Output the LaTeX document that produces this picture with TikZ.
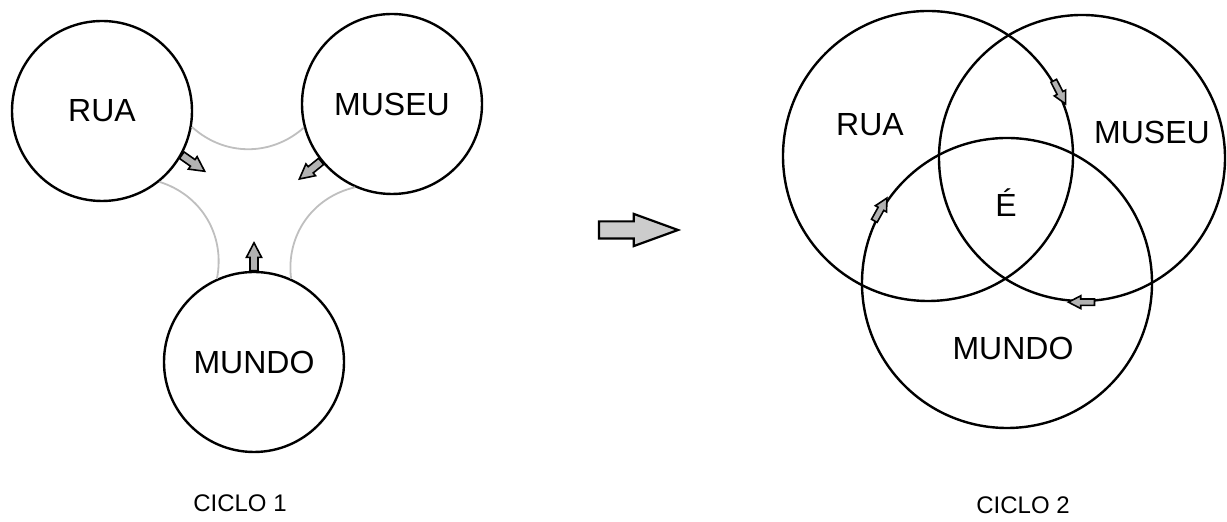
\documentclass[tikz,border=0pt]{standalone}
\usepackage{fontspec}
\setmainfont{Liberation Sans}
\usetikzlibrary{positioning}
\usetikzlibrary{shapes.arrows}

\begin{document}
\begin{tikzpicture}[x=0.5pt, y=-0.5pt,
    cyclenode/.style={circle, draw=black, line width=1.2pt, minimum size=90pt, inner sep=0pt, font=\fontsize{16}{19}\selectfont},
    vennnode/.style={circle, draw=black, line width=1.2pt, inner sep=0pt},
    venntext/.style={font=\fontsize{16}{19}\selectfont, inner sep=0pt},
    cycletitle/.style={font=\fontsize{12}{14}\selectfont, inner sep=0pt},
    linkarc/.style={draw=gray!50, line width=0.9pt},
    flowarrow/.style={single arrow, draw=black, fill=gray!60, line width=0.8pt, inner xsep=0pt, inner ysep=1.6pt, outer sep=0pt, text height=0pt, text depth=0pt, single arrow head extend=1.8pt, single arrow tip angle=55, minimum height=14pt},
    vennarrow/.style={flowarrow, inner ysep=1.2pt, single arrow head extend=1.6pt, minimum height=13pt},
    bigarrow/.style={flowarrow, fill=gray!40, line width=1.1pt, inner ysep=3.75pt, single arrow head extend=3.75pt, single arrow tip angle=40, minimum height=39.5pt}]
            \useasboundingbox (0,0) rectangle (1227,522);
            %Ciclo 1
            \node[cyclenode]   (ruaL)   at (102,111)   {RUA};
            \node[cyclenode]   (museuL) at (392,104)   {MUSEU};
            \node[cyclenode]   (mundoL) at (254,362)   {MUNDO};
            \draw[linkarc] (ruaL.-10) to[bend right=42] (museuL.195);
            \draw[linkarc] (ruaL.-51) to[bend left=42] (mundoL.114);
            \draw[linkarc] (museuL.246) to[bend right=42] (mundoL.66);
            \node[flowarrow, anchor=tail, rotate=-35]  (outRua)   at (ruaL.-29)    {};
            \node[flowarrow, anchor=tail, rotate=-141] (outMuseu) at (museuL.219)  {};
            \node[flowarrow, anchor=tail, rotate=90]   (outMundo) at (mundoL.90)   {};
            \node[cycletitle]  (titleA) at (240,503)   {CICLO 1};
            %Passagem
            \node[bigarrow, anchor=tail] (toVenn) at (599,230) {};
            %Ciclo 2
            \node[vennnode, minimum size=145pt] (ruaR)   at (928,156)  {};
            \node[vennnode, minimum size=143pt] (museuR) at (1082,158) {};
            \node[vennnode, minimum size=145pt] (mundoR) at (1007,283) {};
            \node[venntext]    (ruaT)   at (870,125)   {RUA};
            \node[venntext]    (museuT) at (1152,132)  {MUSEU};
            \node[venntext]    (eT)     at (1006,203)  {É};
            \node[venntext]    (mundoT) at (1013,348)  {MUNDO};
            \node[vennarrow, rotate=-63] (arrRua)   at (ruaR.27)    {};
            \node[vennarrow, rotate=180] (arrMuseu) at (museuR.-89) {};
            \node[vennarrow, rotate=61]  (arrMundo) at (mundoR.151) {};
            \node[cycletitle]  (titleB) at (1023,505)  {CICLO 2};
        \end{tikzpicture}
\end{document}
